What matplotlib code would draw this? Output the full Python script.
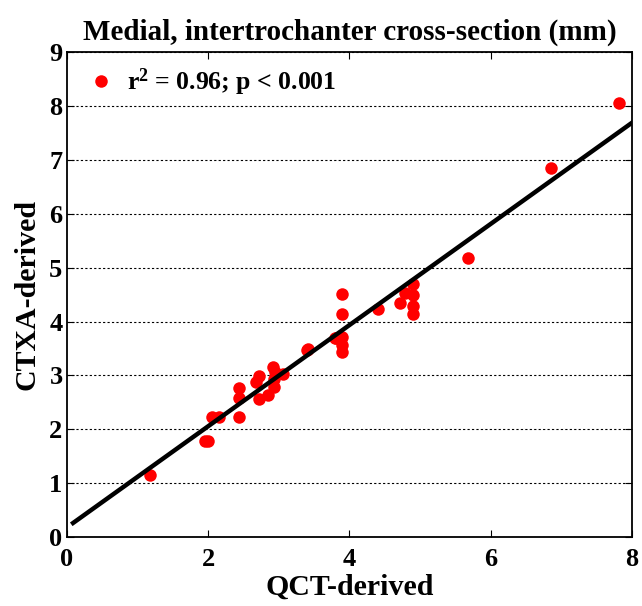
import numpy as np
import matplotlib
matplotlib.use('Agg')
import matplotlib.pyplot as plt

plt.rcParams['font.family'] = ['Liberation Serif', 'DejaVu Serif']
plt.rcParams['font.weight'] = 'bold'
plt.rcParams['mathtext.fontset'] = 'custom'
plt.rcParams['mathtext.rm'] = 'Liberation Serif:bold'
plt.rcParams['mathtext.it'] = 'Liberation Serif:bold'
plt.rcParams['mathtext.bf'] = 'Liberation Serif:bold'

# QCT vs CTXA medial thickness, intertrochanter (mm)
qct = [1.18, 1.96, 2.00, 2.06, 2.16, 2.44, 2.44, 2.44, 2.72, 2.85,
       2.68, 2.72, 2.92, 2.95, 2.94, 2.94, 3.06, 3.42, 3.40, 3.80,
       3.81, 3.90, 3.90, 3.90, 3.90, 3.90, 4.40, 4.71, 4.79, 4.90,
       4.90, 4.90, 4.90, 5.68, 6.85, 7.82]
ctxa = [1.15, 1.78, 1.78, 2.23, 2.23, 2.23, 2.58, 2.76, 2.56, 2.63,
        2.88, 2.99, 3.15, 3.06, 2.78, 2.93, 3.02, 3.49, 3.48, 3.69,
        3.69, 4.51, 4.14, 3.71, 3.56, 3.43, 4.23, 4.34, 4.53, 4.69,
        4.49, 4.29, 4.14, 5.18, 6.86, 8.07]

# regression line
fit_slope = 0.94
fit_intercept = 0.175
fit_range = [0.09, 8.0]

fig = plt.figure(figsize=(6.42, 6.06), dpi=100)
ax = fig.add_axes([0.1039, 0.1139, 0.8805, 0.7995])

ax.plot(qct, ctxa, 'o', color='red', markersize=9, markeredgewidth=0,
        label='r$^{2}$ = 0.96; p < 0.001', zorder=3)
xf = np.array(fit_range)
ax.plot(xf, fit_intercept + fit_slope * xf, color='black', linewidth=3.2, zorder=4)

ax.set_xlim(0, 8)
ax.set_ylim(0, 9)
ax.set_xticks([0, 2, 4, 6, 8])
ax.set_yticks(range(10))
ax.yaxis.grid(True, linestyle=(0, (2, 2)), color='black', linewidth=0.8)
ax.tick_params(direction='in', top=True, right=True, length=5, labelsize=19)
ax.tick_params(axis='x', pad=8)
ax.tick_params(axis='y', pad=3)
for s in ax.spines.values():
    s.set_linewidth(1.3)

ax.set_xlabel('QCT-derived', fontsize=21.5, fontweight='bold', labelpad=2)
ax.set_ylabel('CTXA-derived', fontsize=21.5, fontweight='bold', labelpad=6)
ax.set_title('Medial, intertrochanter cross-section (mm)', fontsize=21, fontweight='bold', pad=9)

ax.legend(loc='upper left', frameon=False, fontsize=18.5, handletextpad=0.2,
          borderaxespad=0.15, handlelength=1.6)

fig.savefig('out.png', dpi=100)
